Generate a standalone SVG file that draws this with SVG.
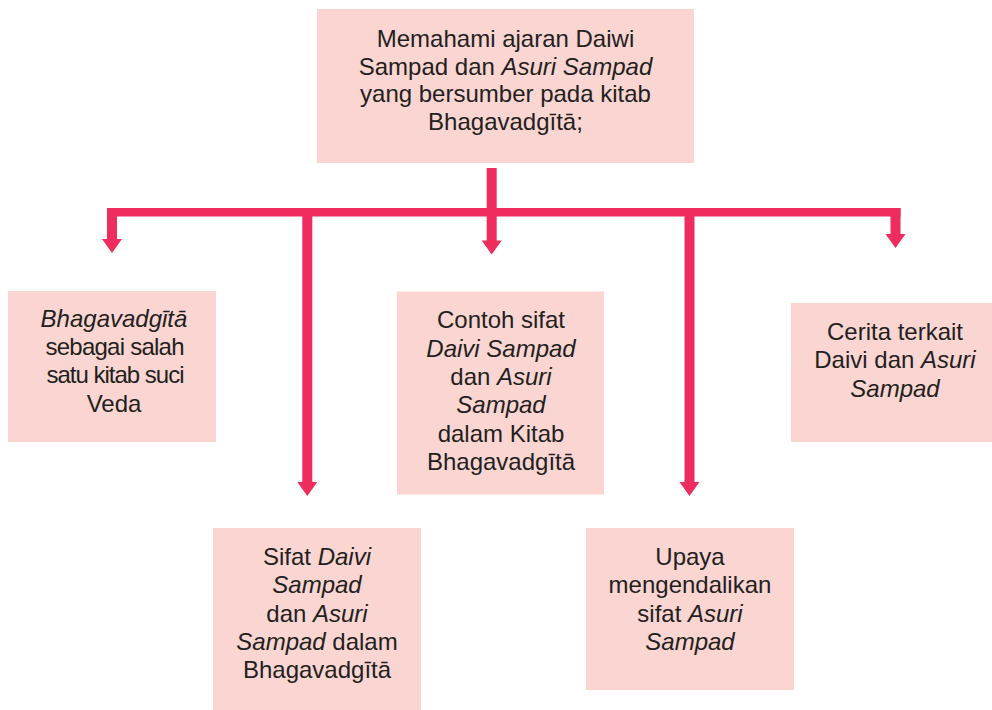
<svg xmlns="http://www.w3.org/2000/svg" width="992" height="710" viewBox="0 0 992 710">
<style>
.box{fill:#fad5d2}
.t{font-family:"Liberation Sans",Arial,sans-serif;font-size:24px;fill:#231f20;text-anchor:middle}
.i{font-style:italic}
.v{stroke:#ee2c5e;stroke-width:10;fill:none}
.h{stroke:#ee2c5e;stroke-width:8.5;fill:none}
.ah{fill:#ee2c5e}
</style>
<defs>
<path id="ah" d="M-10,0 L10,0 L0,14 Z"/>
</defs>
<rect width="992" height="710" fill="#ffffff"/>
<g id="connectors">
<line class="v" x1="491.7" y1="168" x2="491.7" y2="242"/>
<line class="h" x1="107" y1="212.25" x2="900.5" y2="212.25"/>
<line class="v" x1="112" y1="208" x2="112" y2="240"/>
<line class="v" x1="307.3" y1="208" x2="307.3" y2="483"/>
<line class="v" x1="689.5" y1="208" x2="689.5" y2="483"/>
<line class="v" x1="895.5" y1="208" x2="895.5" y2="235"/>
<use href="#ah" class="ah" x="112" y="239"/>
<use href="#ah" class="ah" x="307.3" y="482"/>
<use href="#ah" class="ah" x="491.7" y="240.5"/>
<use href="#ah" class="ah" x="689.5" y="482"/>
<use href="#ah" class="ah" x="895.5" y="234"/>
</g>
<g id="n-top">
<rect class="box" x="317" y="9" width="377" height="154"/>
<text class="t"><tspan x="505.5" y="47">Memahami ajaran Daiwi</tspan><tspan x="505.5" y="74.5">Sampad dan <tspan class="i">Asuri Sampad</tspan></tspan><tspan x="505.5" y="102">yang bersumber pada kitab</tspan><tspan x="505.5" y="130">Bhagavadgītā;</tspan></text>
</g>
<g id="n-bhagavadgita">
<rect class="box" x="8" y="291" width="208" height="151"/>
<text class="t i" x="114" y="327">Bhagavadgītā</text>
<text class="t" x="115" y="355" textLength="139" lengthAdjust="spacing">sebagai salah</text>
<text class="t" x="115.5" y="383" textLength="138" lengthAdjust="spacing">satu kitab suci</text>
<text class="t" x="114" y="411.5">Veda</text>
</g>
<g id="n-contoh">
<rect class="box" x="397" y="291.5" width="207" height="203"/>
<text class="t"><tspan x="501" y="328.3">Contoh sifat</tspan><tspan x="501" y="356.7" class="i">Daivi Sampad</tspan><tspan x="501" y="385">dan <tspan class="i">Asuri</tspan></tspan><tspan x="501" y="413.3" class="i">Sampad</tspan><tspan x="501" y="441.7">dalam Kitab</tspan><tspan x="501" y="470">Bhagavadgītā</tspan></text>
</g>
<g id="n-cerita">
<rect class="box" x="791" y="303" width="201" height="139"/>
<text class="t"><tspan x="895" y="340">Cerita terkait</tspan><tspan x="895" y="368.3">Daivi dan <tspan class="i">Asuri</tspan></tspan><tspan x="895" y="396.5" class="i">Sampad</tspan></text>
</g>
<g id="n-sifat">
<rect class="box" x="213" y="528" width="208" height="182"/>
<text class="t"><tspan x="317" y="565">Sifat <tspan class="i">Daivi</tspan></tspan><tspan x="317" y="593.3" class="i">Sampad</tspan><tspan x="317" y="621.6">dan <tspan class="i">Asuri</tspan></tspan><tspan x="317" y="650"><tspan class="i">Sampad</tspan> dalam</tspan><tspan x="317" y="678.3">Bhagavadgītā</tspan></text>
</g>
<g id="n-upaya">
<rect class="box" x="586" y="528" width="208" height="162"/>
<text class="t"><tspan x="690" y="565">Upaya</tspan><tspan x="690" y="593.3">mengendalikan</tspan><tspan x="690" y="621.6">sifat <tspan class="i">Asuri</tspan></tspan><tspan x="690" y="650" class="i">Sampad</tspan></text>
</g>
</svg>
